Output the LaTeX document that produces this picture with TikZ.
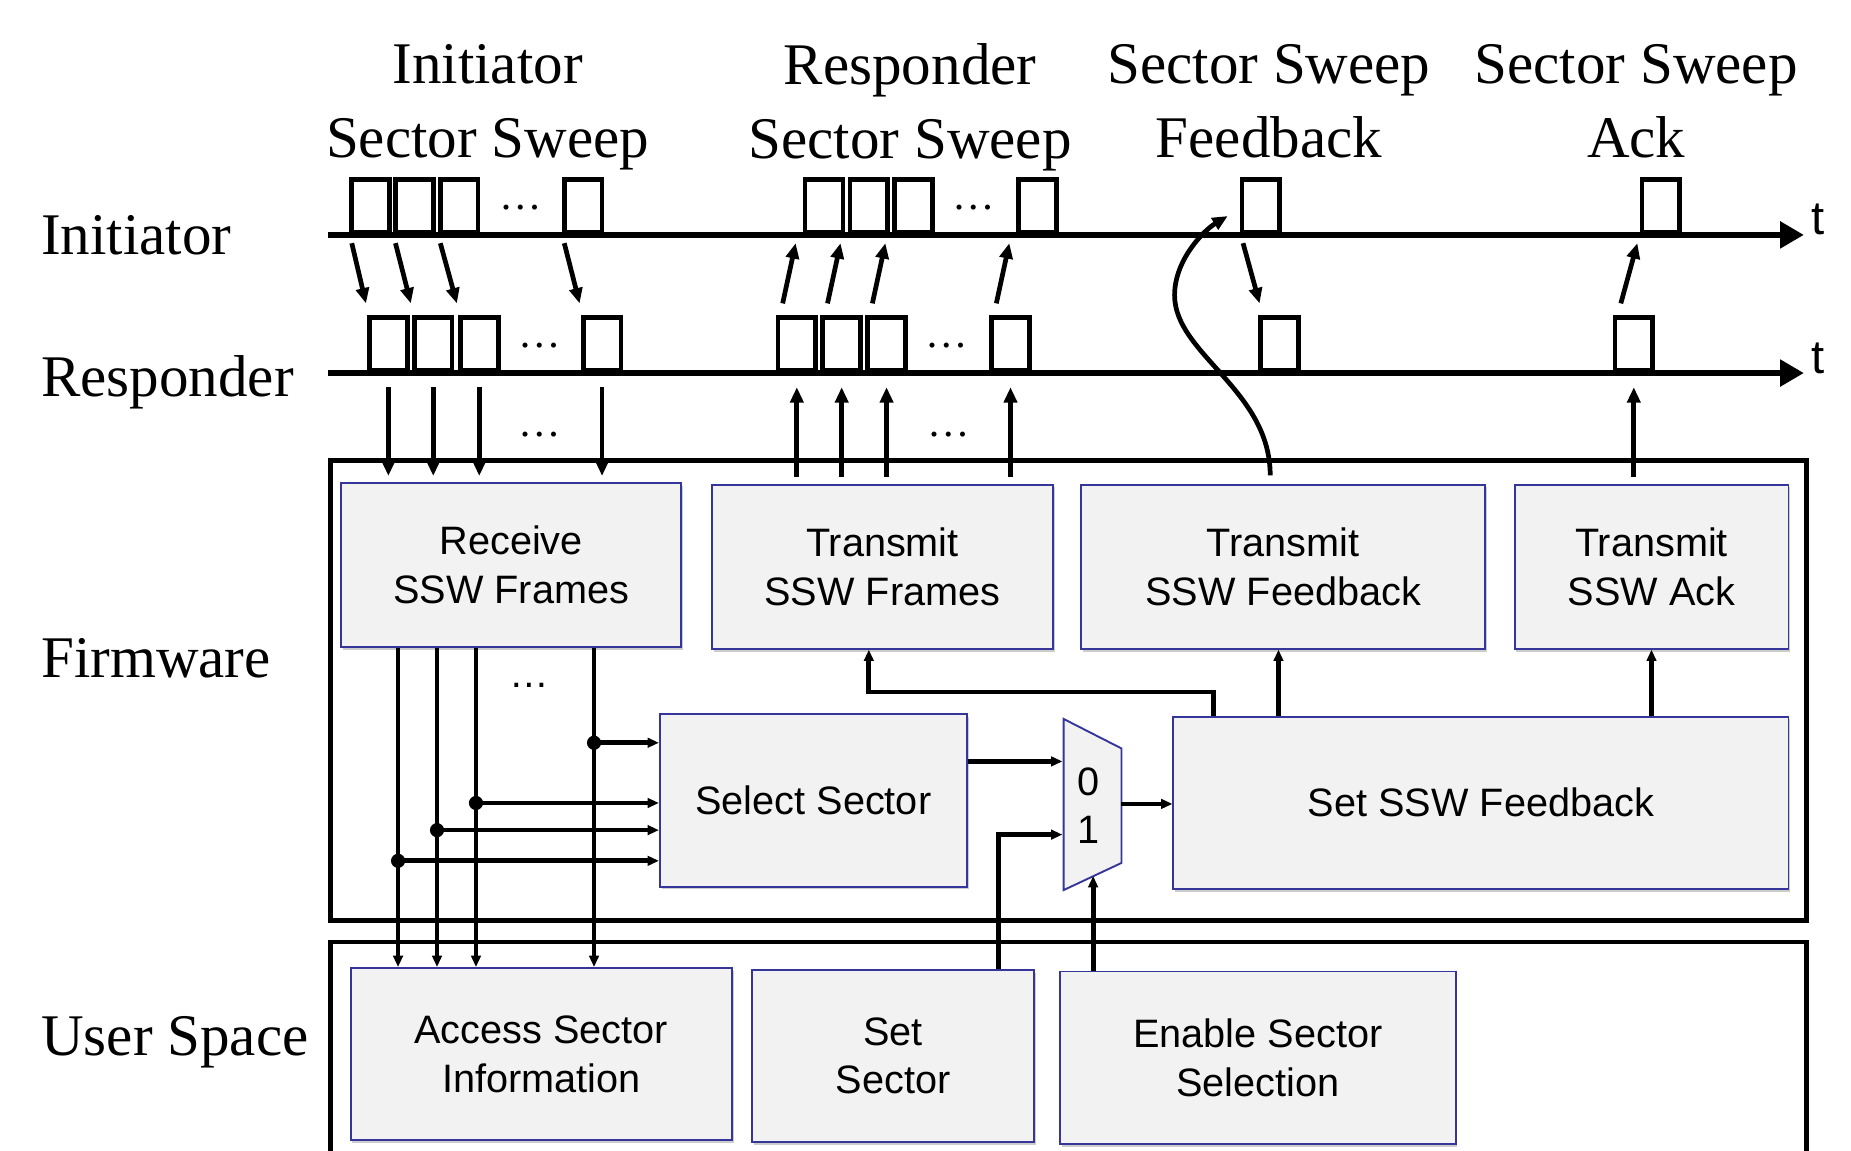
\documentclass[tikz,border=0pt]{standalone}
\usepackage{fontspec}
\setmainfont{Liberation Serif}
\setsansfont{Liberation Sans}
\usetikzlibrary{positioning, arrows.meta, shadows}
\definecolor{boxfill}{HTML}{F2F2F2}
\definecolor{boxline}{HTML}{36369A}

\begin{document}
\begin{tikzpicture}[x=0.5pt, y=-0.5pt, >={Triangle[length=4.8pt, width=4pt]}, line width=2pt,
	lbl/.style={font=\fontsize{25}{31.5}\selectfont, align=center, inner sep=0pt},
	blk/.style={draw=boxline, line width=0.8pt, fill=boxfill, align=center, font=\sffamily\fontsize{16.8}{20.5}\selectfont, drop shadow={shadow xshift=0.8pt, shadow yshift=-1.2pt, fill=black, opacity=0.2}},
	pulse/.style={draw, fill=white, line width=2pt, minimum width=16pt, minimum height=22.5pt, inner sep=0pt, anchor=south west},
	tline/.style={line width=2.2pt, -{Triangle[length=10pt, width=11pt]}},
	big/.style={-{Triangle[length=6.5pt, width=5.5pt]}},
	fwbox/.style={draw, line width=2pt},
	ell/.style={font=\fontsize{18}{18}\selectfont, inner sep=0pt},
	junc/.style={circle, fill, inner sep=0pt, minimum size=6pt},
	tlbl/.style={font=\sffamily\fontsize{20}{20}\selectfont, inner sep=0pt, anchor=base west, xshift=2pt}]
	\useasboundingbox (0,0) rectangle (1568,975);

	\node[lbl] (hIni) at (413,91) {Initiator\\Sector Sweep};
	\node[lbl] (hRes) at (771,91) {Responder\\Sector Sweep};
	\node[lbl] (hFb) at (1075,86) {Sector Sweep\\Feedback};
	\node[lbl] (hAck) at (1386,86) {Sector Sweep\\Ack};

	\node[lbl, anchor=west] (lIni) at (33,199) {Initiator};
	\node[lbl, anchor=west] (lRes) at (33,324) {Responder};
	\node[lbl, anchor=west] (lFw) at (33,558) {Firmware};
	\node[lbl, anchor=west] (lUs) at (33,883) {User Space};

	\coordinate (iS) at (278,199);
	\coordinate (iE) at (1528,199);
	\coordinate (rS) at (278,316);
	\coordinate (rE) at (1528,316);
	\draw[tline] (iS) -- (iE) node[tlbl] (tIni) {t};
	\draw[tline] (rS) -- (rE) node[tlbl] (tRes) {t};

	\foreach \x [count=\i] in {296,333,371,476} \node[pulse] (ia\i) at (\x,199) {};
	\foreach \x [count=\i] in {311,349,388,492} \node[pulse] (ra\i) at (\x,316) {};
	\foreach \x [count=\i] in {680,718,756,861} \node[pulse] (ib\i) at (\x,199) {};
	\foreach \x [count=\i] in {657,695,733,838} \node[pulse] (rb\i) at (\x,316) {};
	\node[pulse] (ic) at (1050,199) {};
	\node[pulse] (rc) at (1066,316) {};
	\node[pulse] (id) at (1389,199) {};
	\node[pulse] (rd) at (1366,316) {};

	\node[ell] (eIa) at (441,176) {\ldots};
	\node[ell] (eRa) at (457,293) {\ldots};
	\node[ell] (eIb) at (825,176) {\ldots};
	\node[ell] (eRb) at (802,293) {\ldots};
	\node[ell] (eDa) at (457,368) {\ldots};
	\node[ell] (eDb) at (804,368) {\ldots};

	\foreach \i in {1,...,4}
		\draw[big] ([shift={(1pt,-3.5pt)}]ia\i.south west) -- ([shift={(-0.5pt,5pt)}]ra\i.north west);
	\foreach \i in {1,...,4}
		\draw[big] ([shift={(3pt,5pt)}]rb\i.north west) -- ([shift={(-3pt,-3.5pt)}]ib\i.south west);
	\draw[big] ([shift={(1.5pt,-3.5pt)}]ic.south west) -- ([shift={(0.5pt,5pt)}]rc.north west);
	\draw[big] ([shift={(3.5pt,5pt)}]rd.north west) -- ([shift={(-1pt,-3.5pt)}]id.south west);

	\node[fwbox, minimum width=625pt, minimum height=195pt] (fw) at (905,585) {};
	\draw[fwbox] (280,975) |- (1530,798) -- (1530,975);

	\node[blk, minimum width=144pt, minimum height=69.5pt] (Rx) at (433,478.5) {Receive\\SSW Frames};
	\node[blk, minimum width=144.5pt, minimum height=69.5pt] (TxF) at (747.5,480) {Transmit\\SSW Frames};
	\node[blk, minimum width=171pt, minimum height=69.5pt] (TxFb) at (1087,480) {Transmit\\SSW Feedback};
	\node[blk, minimum width=116pt, minimum height=69.5pt] (TxAck) at (1399,480) {Transmit\\SSW Ack};
	\node[blk, minimum width=130pt, minimum height=73pt] (Sel) at (689,678) {Select Sector};
	\node[blk, minimum width=260.5pt, minimum height=73pt] (SetFb) at (1254.5,680) {Set SSW Feedback};
	\node[blk, minimum width=161.5pt, minimum height=73pt] (Acc) at (458.5,893) {Access Sector\\Information};
	\node[blk, minimum width=119.5pt, minimum height=73pt] (SetSec) at (756.5,894.5) {Set\\Sector};
	\node[blk, minimum width=167.5pt, minimum height=73pt] (En) at (1065.5,896) {Enable Sector\\Selection};

	\foreach \i in {1,...,4}
		\draw[big, shorten >=2.5pt] ([yshift=-6pt]ra\i.south) -- (ra\i.south |- Rx.north);
	\foreach \i in {1,...,4}
		\draw[big, shorten <=3pt] (rb\i.south |- TxF.north) -- ([yshift=-6pt]rb\i.south);
	\draw[big, shorten <=3pt] (rd.south |- TxAck.north) -- ([yshift=-6pt]rd.south);
	\draw[big] ([shift={(-5.5pt,3.5pt)}]TxFb.north) .. controls (1076,330) and (995,300) .. (995,250) .. controls (995,220) and (1020,195) .. ([shift={(-5pt,8pt)}]ic.south west);

	\node[ell, font=\sffamily\fontsize{16.8}{18}\selectfont] (eFw) at (448,581) {\ldots};

	\foreach \i/\sx/\sy in {1/24.5pt/-62.5pt, 2/41pt/-49.5pt, 3/57.5pt/-38pt, 4/107.5pt/-12.5pt} {
		\coordinate (c\i) at ([xshift=\sx]Rx.south west);
		\coordinate (s\i) at ([yshift=\sy]Sel.north west);
		\draw[->] (c\i) -- (c\i |- Acc.north);
		\draw[->] (c\i |- s\i) -- (s\i);
		\node[junc] at (c\i |- s\i) {};
	}

	\coordinate (mux0) at (900,645);
	\coordinate (mux1) at (900,707);
	\coordinate (muxo) at (950,681);
	\coordinate (muxs) at (926,742);
	\draw[draw=boxline, line width=0.8pt, fill=boxfill] (901,609) -- (950,634) -- (950,731) -- (901,754) -- cycle;
	\node[font=\sffamily\fontsize{16.8}{18}\selectfont, inner sep=0pt] (m0) at (922,662) {0};
	\node[font=\sffamily\fontsize{16.8}{18}\selectfont, inner sep=0pt] (m1) at (922,703) {1};

	\draw[->] (Sel.east |- mux0) -- (mux0);
	\draw[->] ([xshift=-15.5pt]SetSec.north east) |- (mux1);
	\draw[->] (muxs |- En.north) -- (muxs);
	\draw[->] (muxo) -- (muxo -| SetFb.west);
	\coordinate (tf) at ([xshift=-5.75pt]TxF.south);
	\draw[->] ([xshift=17.5pt]SetFb.north west) |- ([yshift=-18pt]tf) -- (tf);
	\draw[->] ([xshift=-2pt]TxFb.south |- SetFb.north) -- ([xshift=-2pt]TxFb.south);
	\draw[->] (TxAck.south |- SetFb.north) -- (TxAck.south);
\end{tikzpicture}
\end{document}
